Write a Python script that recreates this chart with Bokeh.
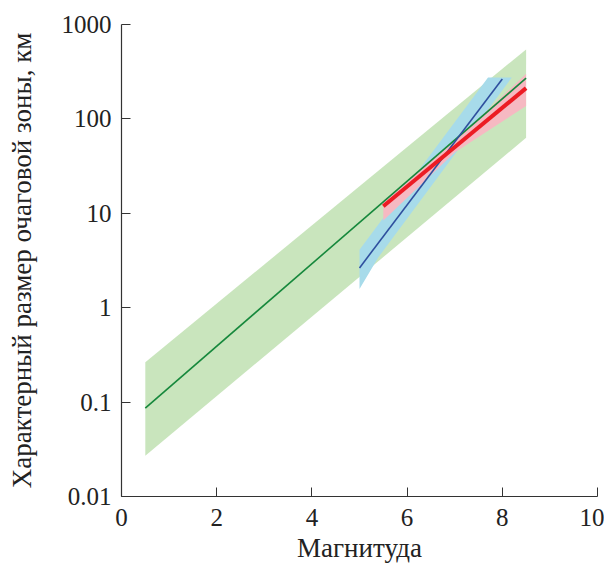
from bokeh.plotting import figure
from bokeh.models import Range1d, FixedTicker
from bokeh.embed import file_html
from bokeh.resources import INLINE

# Green: general relation
green_x = [0.5, 8.5]
green_y = [0.0865, 270]
green_band_x = [0.5, 8.5, 8.5, 0.5]
green_band_y = [0.027, 63, 545, 0.264]

# Blue
blue_x = [5.0, 8.0]
blue_y = [2.64, 265]
blue_band_x = [5.0, 5.4, 8.2, 7.7, 5.0]
blue_band_y = [1.58, 3.44, 275, 275, 4.1]

# Red
red_x = [5.5, 8.5]
red_y = [11.9, 212]
red_band_x = [5.5, 7.0, 8.5, 8.5, 7.0, 5.5]
red_band_y = [8.4, 44, 137, 300, 58, 13.5]

y_ticks = [0.01, 0.1, 1, 10, 100, 1000]
y_labels = ["0.01", "0.1", "1", "10", "100", "1000"]
x_ticks = [0, 2, 4, 6, 8, 10]

FONT = "Liberation Serif"

p = figure(width=604, height=565, y_axis_type="log",
           x_range=Range1d(0, 10), y_range=Range1d(0.01, 1000),
           output_backend="svg", toolbar_location=None,
           min_border_left=121, min_border_right=7,
           min_border_top=24, min_border_bottom=67)
p.outline_line_color = None
p.grid.visible = False

p.patch(green_band_x, green_band_y, fill_color="#c9e5bd", line_color=None)
p.patch(blue_band_x, blue_band_y, fill_color="#a7dbea", line_color=None)
p.patch(red_band_x, red_band_y, fill_color="#f6b9c2", line_color=None)
p.line(green_x, green_y, line_color="#16883c", line_width=1.6)
p.line(blue_x, blue_y, line_color="#2e4f9e", line_width=1.6)
p.line(red_x, red_y, line_color="#ec1c24", line_width=4)

p.xaxis.ticker = FixedTicker(ticks=x_ticks)
p.yaxis.ticker = FixedTicker(ticks=y_ticks)
p.yaxis.major_label_overrides = {t: l for t, l in zip(y_ticks, y_labels)}

for ax in (p.xaxis[0], p.yaxis[0]):
    ax.major_tick_in = 9
    ax.major_tick_out = 0
    ax.minor_tick_in = 0
    ax.minor_tick_out = 0
    ax.axis_line_color = "#333333"
    ax.major_tick_line_color = "#333333"
    ax.axis_line_width = 1.2
    ax.major_label_text_font = FONT
    ax.major_label_text_font_size = "25px"
    ax.major_label_text_color = "#222222"
    ax.axis_label_text_font = FONT
    ax.axis_label_text_font_size = "27px"
    ax.axis_label_text_font_style = "normal"
    ax.axis_label_text_color = "#222222"

p.xaxis.axis_label = "Магнитуда"
p.yaxis.axis_label = "Характерный размер очаговой зоны, км"
p.xaxis.major_label_standoff = 12
p.yaxis.major_label_standoff = 10
p.xaxis.axis_label_standoff = 4
p.yaxis.axis_label_standoff = 22

open("out.html", "w").write(file_html(p, INLINE))
